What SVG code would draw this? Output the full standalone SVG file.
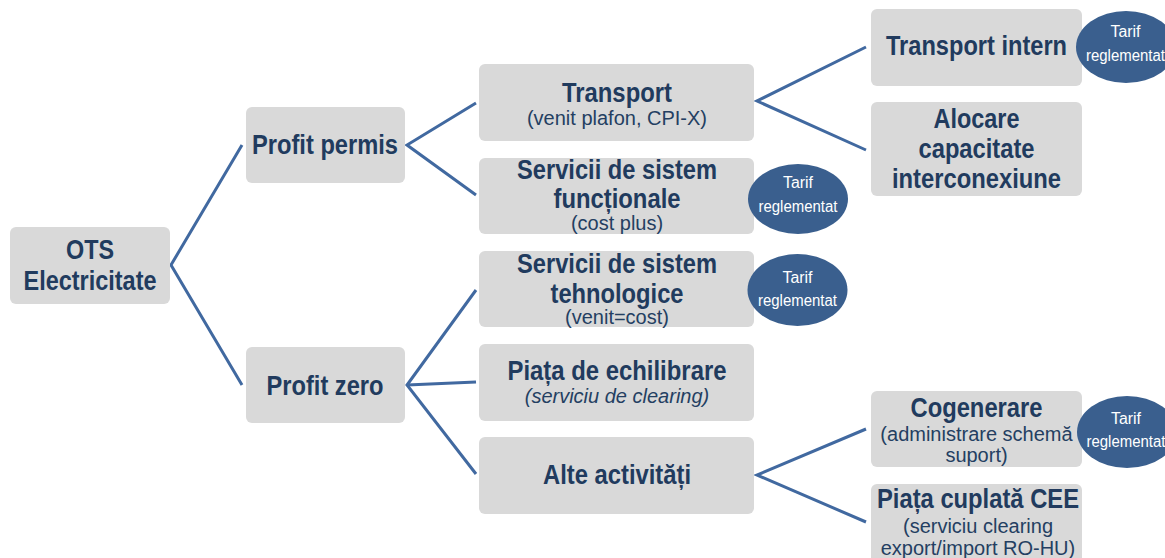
<svg xmlns="http://www.w3.org/2000/svg" width="1165" height="558" viewBox="0 0 1165 558">
<style>
.box{fill:#D9D9D9;}
.t{font-family:"Liberation Sans",Arial,sans-serif;font-weight:bold;font-size:28px;fill:#213B5E;text-anchor:middle;}
.s{font-family:"Liberation Sans",Arial,sans-serif;font-size:20px;fill:#243F62;text-anchor:middle;}
.i{font-style:italic;}
.el{fill:#3A5F8E;}
.e{font-family:"Liberation Sans",Arial,sans-serif;font-size:16px;fill:#FFFFFF;text-anchor:middle;}
.c{fill:none;stroke:#4169A0;stroke-width:3;stroke-linejoin:miter;}
</style>
<rect width="1165" height="558" fill="#FFFFFF"/>
<g id="connectors">
<polyline class="c" points="242,145 171,265 242,385"/>
<polyline class="c" points="476,103 407,145 476,195"/>
<polyline class="c" points="476,290 407,385 476,474"/>
<line class="c" x1="407" y1="385" x2="476" y2="382"/>
<polyline class="c" points="866,47 757,101 866,150"/>
<polyline class="c" points="866,429 757,475 866,522"/>
</g>
<g id="ots">
<rect class="box" x="10" y="227" width="160" height="77" rx="6"/>
<text class="t" x="90" y="259" textLength="48" lengthAdjust="spacingAndGlyphs">OTS</text>
<text class="t" x="90" y="290" textLength="133" lengthAdjust="spacingAndGlyphs">Electricitate</text>
</g>
<g id="profit-permis">
<rect class="box" x="246" y="107" width="159" height="76" rx="6"/>
<text class="t" x="325" y="154" textLength="146" lengthAdjust="spacingAndGlyphs">Profit permis</text>
</g>
<g id="profit-zero">
<rect class="box" x="246" y="347" width="159" height="76" rx="6"/>
<text class="t" x="325" y="395" textLength="117" lengthAdjust="spacingAndGlyphs">Profit zero</text>
</g>
<g id="transport">
<rect class="box" x="479" y="64" width="275" height="77" rx="6"/>
<text class="t" x="617" y="102" textLength="110" lengthAdjust="spacingAndGlyphs">Transport</text>
<text class="s" x="617" y="125">(venit plafon, CPI-X)</text>
</g>
<g id="servicii-functionale">
<rect class="box" x="479" y="158" width="275" height="76" rx="6"/>
<text class="t" x="617" y="179" textLength="200" lengthAdjust="spacingAndGlyphs">Servicii de sistem</text>
<text class="t" x="617" y="208" textLength="127" lengthAdjust="spacingAndGlyphs">funcționale</text>
<text class="s" x="617" y="230">(cost plus)</text>
</g>
<g id="servicii-tehnologice">
<rect class="box" x="479" y="251" width="275" height="76" rx="6"/>
<text class="t" x="617" y="273" textLength="200" lengthAdjust="spacingAndGlyphs">Servicii de sistem</text>
<text class="t" x="617" y="303" textLength="133" lengthAdjust="spacingAndGlyphs">tehnologice</text>
<text class="s" x="617" y="324">(venit=cost)</text>
</g>
<g id="piata-echilibrare">
<rect class="box" x="479" y="344" width="275" height="77" rx="6"/>
<text class="t" x="617" y="380" textLength="219" lengthAdjust="spacingAndGlyphs">Piața de echilibrare</text>
<text class="s i" x="617" y="403">(serviciu de clearing)</text>
</g>
<g id="alte-activitati">
<rect class="box" x="479" y="437" width="275" height="77" rx="6"/>
<text class="t" x="617" y="484" textLength="148" lengthAdjust="spacingAndGlyphs">Alte activități</text>
</g>
<g id="transport-intern">
<rect class="box" x="871" y="9" width="211" height="77" rx="6"/>
<text class="t" x="976.5" y="55" textLength="181" lengthAdjust="spacingAndGlyphs">Transport intern</text>
</g>
<g id="alocare">
<rect class="box" x="871" y="102" width="211" height="94" rx="6"/>
<text class="t" x="976.5" y="128" textLength="86" lengthAdjust="spacingAndGlyphs">Alocare</text>
<text class="t" x="976.5" y="158" textLength="116" lengthAdjust="spacingAndGlyphs">capacitate</text>
<text class="t" x="976.5" y="188" textLength="169" lengthAdjust="spacingAndGlyphs">interconexiune</text>
</g>
<g id="cogenerare">
<rect class="box" x="871" y="391" width="211" height="76" rx="6"/>
<text class="t" x="976.5" y="417" textLength="132" lengthAdjust="spacingAndGlyphs">Cogenerare</text>
<text class="s" x="976.5" y="441">(administrare schemă</text>
<text class="s" x="976.5" y="462">suport)</text>
</g>
<g id="piata-cuplata">
<rect class="box" x="871" y="484" width="211" height="90" rx="6"/>
<text class="t" x="978" y="508" textLength="202" lengthAdjust="spacingAndGlyphs">Piața cuplată CEE</text>
<text class="s" x="978" y="533">(serviciu clearing</text>
<text class="s" x="978" y="555">export/import RO-HU)</text>
</g>
<g id="tarif-1">
<ellipse class="el" cx="1126" cy="47" rx="50" ry="36"/>
<text class="e" x="1125.5" y="37" textLength="30" lengthAdjust="spacingAndGlyphs">Tarif</text>
<text class="e" x="1125.5" y="61" textLength="79" lengthAdjust="spacingAndGlyphs">reglementat</text>
</g>
<g id="tarif-2">
<ellipse class="el" cx="798" cy="199" rx="50" ry="35"/>
<text class="e" x="798" y="188" textLength="30" lengthAdjust="spacingAndGlyphs">Tarif</text>
<text class="e" x="798" y="212" textLength="79" lengthAdjust="spacingAndGlyphs">reglementat</text>
</g>
<g id="tarif-3">
<ellipse class="el" cx="797.5" cy="290" rx="50" ry="36"/>
<text class="e" x="797.5" y="283" textLength="30" lengthAdjust="spacingAndGlyphs">Tarif</text>
<text class="e" x="797.5" y="306" textLength="79" lengthAdjust="spacingAndGlyphs">reglementat</text>
</g>
<g id="tarif-4">
<ellipse class="el" cx="1127" cy="432" rx="50" ry="36"/>
<text class="e" x="1126" y="424" textLength="30" lengthAdjust="spacingAndGlyphs">Tarif</text>
<text class="e" x="1126" y="447" textLength="79" lengthAdjust="spacingAndGlyphs">reglementat</text>
</g>
</svg>
